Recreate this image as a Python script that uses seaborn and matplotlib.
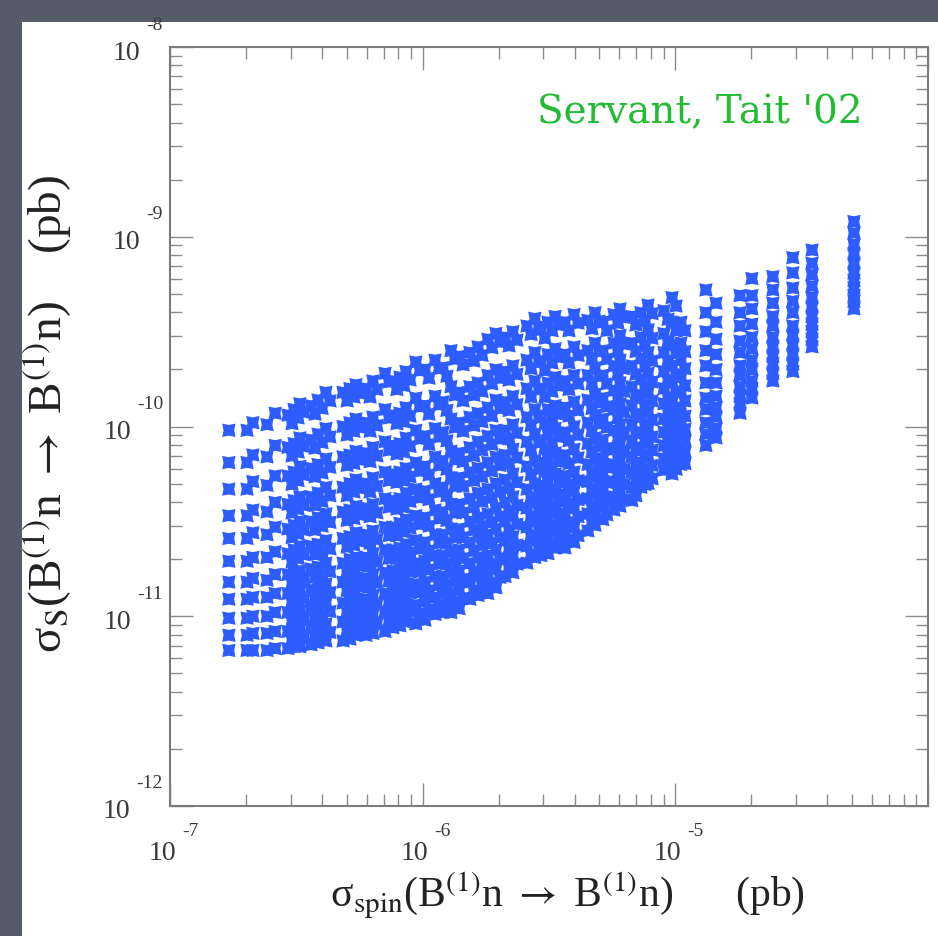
import numpy as np
import pandas as pd
import matplotlib
matplotlib.use("Agg")
import matplotlib.pyplot as plt
import seaborn as sns
from matplotlib.patches import Rectangle
from matplotlib.ticker import LogLocator, NullFormatter

# ---------------- data (log10 of cross sections in pb) -------------
# each entry of *_spin is the x value of one column of points; the matching list in *_si
# holds the y values of that column (one point per Higgs-mass step)
left_spin = [-6.767, -6.695, -6.672, -6.616, -6.584, -6.533, -6.509, -6.486, -6.442, -6.414,
             -6.383, -6.315, -6.288, -6.264, -6.224, -6.197, -6.149, -6.118, -6.090, -6.066]
left_si = [
    [-10.02, -10.19, -10.33, -10.47, -10.59, -10.71, -10.82, -10.91, -11.01, -11.10, -11.18],
    [-10.02, -10.19, -10.33, -10.47, -10.59, -10.71, -10.82, -10.91, -11.01, -11.10, -11.18],
    [-9.98, -10.15, -10.29, -10.44, -10.56, -10.69, -10.80, -10.90, -11.00, -11.09, -11.18],
    [-9.99, -10.16, -10.31, -10.45, -10.57, -10.69, -10.81, -10.90, -11.00, -11.09, -11.18],
    [-9.93, -10.10, -10.26, -10.40, -10.53, -10.66, -10.78, -10.88, -10.98, -11.08, -11.17],
    [-9.94, -10.11, -10.26, -10.41, -10.54, -10.67, -10.78, -10.88, -10.98, -11.08, -11.17],
    [-9.91, -10.09, -10.24, -10.39, -10.52, -10.65, -10.77, -10.87, -10.98, -11.07, -11.16],
    [-9.88, -10.06, -10.21, -10.37, -10.50, -10.63, -10.76, -10.86, -10.97, -11.06, -11.16],
    [-9.89, -10.07, -10.22, -10.37, -10.50, -10.63, -10.75, -10.86, -10.96, -11.06, -11.15],
    [-9.86, -10.04, -10.20, -10.35, -10.48, -10.62, -10.74, -10.84, -10.95, -11.05, -11.14],
    [-9.82, -10.01, -10.17, -10.32, -10.46, -10.60, -10.72, -10.83, -10.93, -11.04, -11.13],
    [-9.82, -10.00, -10.16, -10.32, -10.45, -10.59, -10.72, -10.82, -10.93, -11.03, -11.13],
    [-9.80, -9.98, -10.15, -10.30, -10.44, -10.58, -10.70, -10.81, -10.92, -11.02, -11.12],
    [-9.78, -9.96, -10.13, -10.28, -10.42, -10.56, -10.69, -10.80, -10.91, -11.01, -11.10],
    [-9.80, -9.98, -10.14, -10.30, -10.43, -10.57, -10.69, -10.80, -10.91, -11.01, -11.10],
    [-9.76, -9.95, -10.11, -10.27, -10.41, -10.55, -10.67, -10.78, -10.89, -10.99, -11.09],
    [-9.72, -9.91, -10.08, -10.24, -10.38, -10.53, -10.65, -10.77, -10.88, -10.98, -11.08],
    [-9.76, -9.94, -10.10, -10.25, -10.39, -10.53, -10.65, -10.76, -10.87, -10.97, -11.06],
    [-9.74, -9.93, -10.09, -10.24, -10.38, -10.51, -10.64, -10.74, -10.85, -10.95, -11.05],
    [-9.71, -9.90, -10.06, -10.22, -10.35, -10.49, -10.62, -10.72, -10.83, -10.93, -11.03],
]

mid_spin = [-6.027, -5.991, -5.951, -5.920, -5.888, -5.856, -5.813, -5.781, -5.742, -5.710,
            -5.674, -5.643, -5.587, -5.556, -5.532, -5.504, -5.476, -5.437, -5.401]
mid_si = [
    [-9.66, -9.85, -10.02, -10.19, -10.33, -10.47, -10.60, -10.72, -10.83, -10.94, -11.04],
    [-9.70, -9.89, -10.05, -10.21, -10.34, -10.48, -10.61, -10.71, -10.82, -10.92, -11.02],
    [-9.65, -9.84, -10.01, -10.16, -10.30, -10.44, -10.57, -10.68, -10.79, -10.90, -10.99],
    [-9.69, -9.87, -10.03, -10.18, -10.32, -10.45, -10.57, -10.68, -10.79, -10.88, -10.98],
    [-9.60, -9.79, -9.96, -10.13, -10.27, -10.41, -10.54, -10.66, -10.77, -10.88, -10.98],
    [-9.63, -9.82, -9.98, -10.14, -10.27, -10.41, -10.54, -10.65, -10.76, -10.86, -10.96],
    [-9.61, -9.79, -9.95, -10.11, -10.24, -10.38, -10.50, -10.61, -10.72, -10.82, -10.91],
    [-9.58, -9.77, -9.93, -10.08, -10.22, -10.35, -10.48, -10.58, -10.69, -10.79, -10.89],
    [-9.54, -9.73, -9.90, -10.05, -10.19, -10.33, -10.46, -10.57, -10.68, -10.78, -10.88],
    [-9.51, -9.70, -9.86, -10.02, -10.16, -10.30, -10.43, -10.54, -10.65, -10.75, -10.85],
    [-9.53, -9.71, -9.87, -10.02, -10.15, -10.28, -10.40, -10.50, -10.60, -10.70, -10.79],
    [-9.50, -9.68, -9.84, -9.99, -10.12, -10.25, -10.37, -10.47, -10.58, -10.68, -10.77],
    [-9.47, -9.65, -9.80, -9.95, -10.08, -10.21, -10.33, -10.43, -10.53, -10.63, -10.72],
    [-9.43, -9.61, -9.76, -9.91, -10.04, -10.18, -10.30, -10.40, -10.50, -10.60, -10.69],
    [-9.49, -9.66, -9.80, -9.94, -10.07, -10.19, -10.31, -10.40, -10.50, -10.59, -10.68],
    [-9.45, -9.62, -9.77, -9.91, -10.04, -10.17, -10.29, -10.38, -10.48, -10.58, -10.67],
    [-9.42, -9.59, -9.74, -9.89, -10.01, -10.14, -10.25, -10.35, -10.45, -10.55, -10.64],
    [-9.45, -9.62, -9.76, -9.90, -10.03, -10.15, -10.26, -10.36, -10.46, -10.55, -10.64],
    [-9.41, -9.58, -9.73, -9.87, -10.00, -10.12, -10.24, -10.34, -10.43, -10.53, -10.61],
]

right_spin = [-5.346, -5.318, -5.287, -5.243, -5.219, -5.172, -5.136, -5.108, -5.045, -5.013,
              -4.978, -4.879, -4.839, -4.744, -4.697, -4.614, -4.535, -4.459, -4.293]
right_si = [
    [-9.44, -9.60, -9.73, -9.86, -9.98, -10.09, -10.20, -10.29, -10.38, -10.46, -10.55],
    [-9.40, -9.56, -9.69, -9.83, -9.94, -10.06, -10.17, -10.26, -10.35, -10.44, -10.52],
    [-9.45, -9.60, -9.73, -9.85, -9.96, -10.07, -10.17, -10.25, -10.34, -10.42, -10.49],
    [-9.41, -9.56, -9.68, -9.81, -9.91, -10.02, -10.12, -10.20, -10.29, -10.37, -10.44],
    [-9.38, -9.52, -9.65, -9.77, -9.88, -9.99, -10.09, -10.18, -10.26, -10.34, -10.42],
    [-9.42, -9.56, -9.68, -9.79, -9.89, -9.99, -10.08, -10.16, -10.24, -10.32, -10.39],
    [-9.40, -9.53, -9.64, -9.75, -9.85, -9.95, -10.03, -10.11, -10.19, -10.26, -10.32],
    [-9.36, -9.49, -9.61, -9.72, -9.82, -9.92, -10.01, -10.08, -10.16, -10.23, -10.30],
    [-9.39, -9.51, -9.61, -9.71, -9.80, -9.88, -9.96, -10.03, -10.10, -10.17, -10.23],
    [-9.32, -9.45, -9.57, -9.68, -9.77, -9.87, -9.96, -10.03, -10.11, -10.18, -10.25],
    [-9.45, -9.56, -9.65, -9.74, -9.82, -9.90, -9.97, -10.03, -10.09, -10.15, -10.20],
    [-9.28, -9.40, -9.50, -9.60, -9.68, -9.77, -9.85, -9.91, -9.98, -10.04, -10.10],
    [-9.35, -9.45, -9.54, -9.62, -9.70, -9.77, -9.84, -9.90, -9.95, -10.01, -10.06],
    [-9.31, -9.40, -9.47, -9.55, -9.61, -9.68, -9.73, -9.79, -9.84, -9.88, -9.93],
    [-9.22, -9.31, -9.38, -9.46, -9.53, -9.59, -9.65, -9.70, -9.76, -9.80, -9.85],
    [-9.21, -9.28, -9.35, -9.42, -9.47, -9.53, -9.58, -9.63, -9.67, -9.72, -9.76],
    [-9.11, -9.19, -9.27, -9.34, -9.40, -9.47, -9.52, -9.57, -9.62, -9.67, -9.71],
    [-9.07, -9.14, -9.20, -9.26, -9.32, -9.37, -9.42, -9.46, -9.50, -9.54, -9.58],
    [-8.92, -8.98, -9.04, -9.09, -9.14, -9.19, -9.23, -9.27, -9.31, -9.34, -9.38],
]

# in the dense central band every column is doubled by a neighbouring column that sits
# slightly to the right and lower (offset in decades, read from the diagonal streaks)
partner_offset = (0.016, -0.045)
partner_left_from = 5          # left_si columns from this index onward are doubled
partner_right_until = 11       # right_si columns before this index are doubled

x_tick_exponents = [-7, -6, -5]
y_tick_exponents = [-12, -11, -10, -9, -8]
x_label = r"σ$_{\mathrm{spin}}$(B$^{(1)}$n $\rightarrow$ B$^{(1)}$n)      (pb)"
y_label = r"σ$_{\mathrm{S}}$(B$^{(1)}$n $\rightarrow$ B$^{(1)}$n)    (pb)"
credit = "Servant, Tait '02"

# ---------------- build table ----------------
rows = []
for spins, sis in ((left_spin, left_si), (mid_spin, mid_si), (right_spin, right_si)):
    for xs, ys in zip(spins, sis):
        for yv in ys:
            rows.append((10.0 ** xs, 10.0 ** yv))

partners = (list(zip(left_spin, left_si))[partner_left_from:]
            + list(zip(mid_spin, mid_si))
            + list(zip(right_spin, right_si))[:partner_right_until])
for xs, ys in partners:
    for yv in ys[:-1]:
        rows.append((10.0 ** (xs + partner_offset[0]), 10.0 ** (yv + partner_offset[1])))
df = pd.DataFrame(rows, columns=["sigma_spin", "sigma_S"])

# ---------------- figure ----------------
sns.set_style("white")
plt.rcParams["font.family"] = ["Liberation Serif", "DejaVu Serif"]
plt.rcParams["mathtext.fontset"] = "stix"

W, H = 938, 936
fig = plt.figure(figsize=(W / 100, H / 100), dpi=100)
fig.patch.set_facecolor("#555b69")
fig.patches.append(Rectangle((22 / W, 0), 1 - 22 / W, 1 - 22 / H, transform=fig.transFigure,
                             facecolor="white", edgecolor="none", zorder=-5))

ax = fig.add_axes([170 / W, 1 - 806 / H, 758 / W, 759 / H])
ax.set_facecolor("white")

# notched square ("fat X") marker like the ROOT star marker
star_marker = [(-1, -1), (0, -0.8), (1, -1), (0.8, 0), (1, 1), (0, 0.8), (-1, 1), (-0.8, 0)]
sns.scatterplot(data=df, x="sigma_spin", y="sigma_S", marker=star_marker, s=92,
                color="#2d5cff", edgecolor="none", linewidth=0, legend=False, ax=ax, zorder=3)

ax.set_xscale("log")
ax.set_yscale("log")
ax.set_xlim(1e-7, 1e-4)
ax.set_ylim(1e-12, 1e-8)
ax.set_xlabel("")
ax.set_ylabel("")

for axis in (ax.xaxis, ax.yaxis):
    axis.set_major_locator(LogLocator(base=10, numticks=20))
    axis.set_minor_locator(LogLocator(base=10, subs=np.arange(2, 10), numticks=20))
    axis.set_minor_formatter(NullFormatter())
ax.tick_params(which="both", direction="in", top=True, right=True, bottom=True, left=True,
               labelbottom=False, labelleft=False, color="#8c8c8c", width=1.0)
ax.tick_params(which="major", length=16.5)
ax.tick_params(which="minor", length=8.3)
for sp in ax.spines.values():
    sp.set_color("#7c7c7c")
    sp.set_linewidth(1.5)

PT = 0.72  # points per pixel at 100 dpi
lab_color = "#3a3a3a"
for e in x_tick_exponents:
    ax.annotate("10", xy=(10.0 ** e, 0), xycoords=("data", "axes fraction"),
                xytext=(6 * PT, -48 * PT), textcoords="offset points",
                ha="right", va="center", fontsize=20, color=lab_color, annotation_clip=False)
    ax.annotate(str(e), xy=(10.0 ** e, 0), xycoords=("data", "axes fraction"),
                xytext=(12 * PT, -26 * PT), textcoords="offset points",
                ha="left", va="center", fontsize=14, color=lab_color, annotation_clip=False)

for e in y_tick_exponents:
    ex = ax.annotate(str(e), xy=(0, 10.0 ** e), xycoords=("axes fraction", "data"),
                     xytext=(-7 * PT, 22 * PT), textcoords="offset points",
                     ha="right", va="center", fontsize=14, color=lab_color, annotation_clip=False)
    ax.annotate("10", xy=(0, 0.5), xycoords=ex,
                xytext=(-6 * PT, -28 * PT), textcoords="offset points",
                ha="right", va="center", fontsize=20, color=lab_color, annotation_clip=False)

fig.text(567 / W, 1 - 896 / H, x_label, ha="center", va="center", fontsize=30, color="#222222")
fig.text(47 / W, 1 - 414 / H, y_label, ha="center", va="center", rotation=90,
         fontsize=34, color="#222222")
fig.text(700 / W, 1 - 113 / H, credit, ha="center", va="center", fontsize=28,
         color="#22bb33", family="DejaVu Serif")

fig.savefig("out.png", dpi=100, facecolor=fig.get_facecolor())
